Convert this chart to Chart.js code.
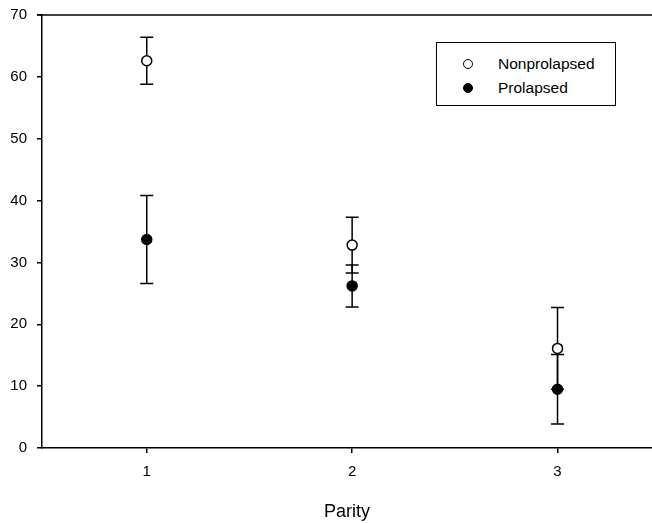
<!DOCTYPE html>
<html>
<head>
<meta charset="utf-8">
<script src="https://cdn.jsdelivr.net/npm/chart.js@4"></script>
<style>
  body { margin: 0; background: #fff; }
  #wrap { position: relative; width: 652px; height: 523px; overflow: hidden; }
  #legendBox {
    position: absolute; left: 436px; top: 42px; width: 178px; height: 62px;
    border: 1.5px solid #000; background: #fff;
    font-family: "Liberation Sans", Arial, sans-serif; font-size: 15.5px; color: #000;
  }
  .row { position: absolute; left: 0; height: 18px; line-height: 18px; white-space: nowrap; }
  .dot { position: absolute; left: 26px; top: 4px; width: 8px; height: 8px; border-radius: 50%; border: 1.5px solid #000; }
  .lbl { position: absolute; left: 61px; top: 0; }
</style>
</head>
<body>
<div id="wrap">
  <canvas id="myChart" width="652" height="523"></canvas>
  <div id="legendBox"></div>
</div>
<script>
var parity = [1, 2, 3];
var nonprolapsed = [62.6, 32.8, 16.1];
var nonprolapsedErr = [3.8, 4.5, 6.6];
var prolapsed = [33.7, 26.2, 9.5];
var prolapsedErr = [7.1, 3.4, 5.6];
var yTicks = [0, 10, 20, 30, 40, 50, 60, 70];

Chart.defaults.font.family = '"Liberation Sans", Arial, sans-serif';
Chart.defaults.font.size = 15;
Chart.defaults.color = '#000';

function toPoints(vals) {
    return parity.map(function (p, i) { return { x: p, y: vals[i] }; });
}

function noPad(scale) {
    scale.paddingTop = 0;
    scale.paddingBottom = 0;
    scale.paddingLeft = 0;
    scale.paddingRight = 0;
}

// error bars drawn under the markers, top frame line
var errorBars = {
    id: 'errorBars',
    beforeDatasetsDraw: function (chart) {
        var ctx = chart.ctx;
        var xs = chart.scales.x;
        var ys = chart.scales.y;
        var sets = [[nonprolapsed, nonprolapsedErr], [prolapsed, prolapsedErr]];
        ctx.save();
        ctx.strokeStyle = '#000';
        ctx.lineWidth = 1.5;
        sets.forEach(function (s) {
            s[0].forEach(function (v, i) {
                var x = xs.getPixelForValue(parity[i]);
                var yt = ys.getPixelForValue(v + s[1][i]);
                var yb = ys.getPixelForValue(v - s[1][i]);
                ctx.beginPath();
                ctx.moveTo(x, yt); ctx.lineTo(x, yb);
                ctx.moveTo(x - 6.5, yt); ctx.lineTo(x + 6.5, yt);
                ctx.moveTo(x - 6.5, yb); ctx.lineTo(x + 6.5, yb);
                ctx.stroke();
            });
        });
        var a = chart.chartArea;
        ctx.beginPath();
        ctx.moveTo(a.left - 5, a.top);
        ctx.lineTo(chart.width, a.top);
        ctx.stroke();
        ctx.restore();
    }
};

var ctx = document.getElementById('myChart').getContext('2d');
var myChart = new Chart(ctx, {
    type: 'scatter',
    data: {
        datasets: [{
            label: 'Nonprolapsed',
            data: toPoints(nonprolapsed),
            pointRadius: 5,
            pointHoverRadius: 5,
            pointBackgroundColor: '#fff',
            pointBorderColor: '#000',
            pointBorderWidth: 1.5
        }, {
            label: 'Prolapsed',
            data: toPoints(prolapsed),
            pointRadius: 5,
            pointHoverRadius: 5,
            pointBackgroundColor: '#000',
            pointBorderColor: '#000',
            pointBorderWidth: 1.5
        }]
    },
    options: {
        responsive: false,
        animation: false,
        layout: { autoPadding: false, padding: { top: 15, left: 0, right: 0, bottom: 0 } },
        plugins: {
            legend: { display: false },
            tooltip: { enabled: false }
        },
        scales: {
            x: {
                type: 'linear',
                min: 0.49,
                max: 3.46,
                afterBuildTicks: function (scale) {
                    scale.ticks = parity.map(function (p) { return { value: p }; });
                },
                afterFit: function (scale) { scale.height = 75; noPad(scale); },
                ticks: { padding: 10, maxRotation: 0 },
                grid: { drawOnChartArea: false, tickLength: 5, color: '#000', lineWidth: 1.5 },
                border: { color: '#000', width: 1.5 },
                title: { display: true, text: 'Parity', font: { size: 18 }, padding: { top: 10, bottom: 0 } }
            },
            y: {
                min: 0,
                max: 70,
                afterBuildTicks: function (scale) {
                    scale.ticks = yTicks.map(function (v) { return { value: v }; });
                },
                afterFit: function (scale) { scale.width = 42; noPad(scale); },
                ticks: { padding: 10 },
                grid: { drawOnChartArea: false, tickLength: 5, color: '#000', lineWidth: 1.5 },
                border: { color: '#000', width: 1.5 }
            }
        }
    },
    plugins: [errorBars]
});

// legend box
var box = document.getElementById('legendBox');
myChart.data.datasets.forEach(function (ds, i) {
    var row = document.createElement('div');
    row.className = 'row';
    row.style.top = (12 + i * 24) + 'px';
    row.style.width = '100%';
    var dot = document.createElement('span');
    dot.className = 'dot';
    dot.style.background = ds.pointBackgroundColor;
    var lbl = document.createElement('span');
    lbl.className = 'lbl';
    lbl.textContent = ds.label;
    row.appendChild(dot);
    row.appendChild(lbl);
    box.appendChild(row);
});
</script>
</body>
</html>
